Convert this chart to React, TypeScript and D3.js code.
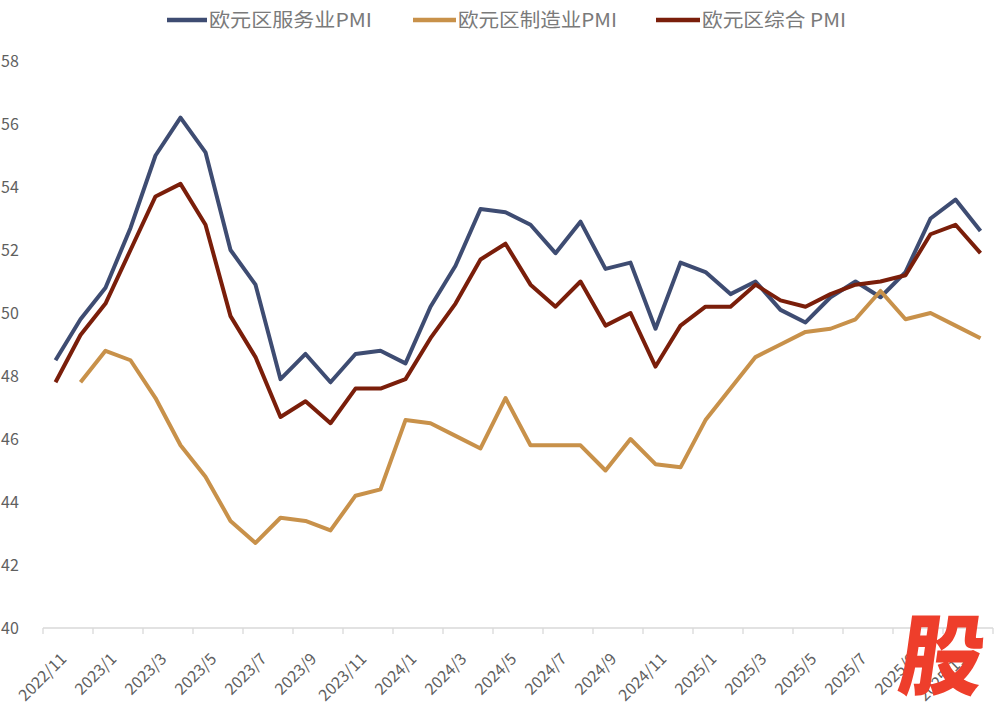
import * as d3 from 'd3';

const months = [
  '2022/11', '2022/12',
  '2023/1', '2023/2', '2023/3', '2023/4', '2023/5', '2023/6', '2023/7', '2023/8', '2023/9', '2023/10', '2023/11', '2023/12',
  '2024/1', '2024/2', '2024/3', '2024/4', '2024/5', '2024/6', '2024/7', '2024/8', '2024/9', '2024/10', '2024/11', '2024/12',
  '2025/1', '2025/2', '2025/3', '2025/4', '2025/5', '2025/6', '2025/7', '2025/8', '2025/9', '2025/10', '2025/11', '2025/12',
];

const services = [
  48.5, 49.8, 50.8, 52.7, 55.0, 56.2, 55.1, 52.0, 50.9, 47.9, 48.7, 47.8, 48.7, 48.8,
  48.4, 50.2, 51.5, 53.3, 53.2, 52.8, 51.9, 52.9, 51.4, 51.6, 49.5, 51.6,
  51.3, 50.6, 51.0, 50.1, 49.7, 50.5, 51.0, 50.5, 51.3, 53.0, 53.6, 52.6,
];

const manufacturing: (number | null)[] = [
  null, 47.8, 48.8, 48.5, 47.3, 45.8, 44.8, 43.4, 42.7, 43.5, 43.4, 43.1, 44.2, 44.4,
  46.6, 46.5, 46.1, 45.7, 47.3, 45.8, 45.8, 45.8, 45.0, 46.0, 45.2, 45.1,
  46.6, 47.6, 48.6, 49.0, 49.4, 49.5, 49.8, 50.7, 49.8, 50.0, 49.6, 49.2,
];

const composite = [
  47.8, 49.3, 50.3, 52.0, 53.7, 54.1, 52.8, 49.9, 48.6, 46.7, 47.2, 46.5, 47.6, 47.6,
  47.9, 49.2, 50.3, 51.7, 52.2, 50.9, 50.2, 51.0, 49.6, 50.0, 48.3, 49.6,
  50.2, 50.2, 50.9, 50.4, 50.2, 50.6, 50.9, 51.0, 51.2, 52.5, 52.8, 51.9,
];

const yTicks = [40, 42, 44, 46, 48, 50, 52, 54, 56, 58];

const series = [
  { name: '欧元区服务业PMI', color: '#3E4C72', values: services as (number | null)[] },
  { name: '欧元区制造业PMI', color: '#C8914A', values: manufacturing },
  { name: '欧元区综合 PMI', color: '#7A1E0A', values: composite as (number | null)[] },
];

const W = 1003;
const H = 709;
const font = '"Noto Sans CJK SC", "Noto Sans", sans-serif';

// legend layout: sample start, text start, text width
const legendPos = [
  { x: 167, tx: 209, tw: 163 },
  { x: 413, tx: 458, tw: 159 },
  { x: 656, tx: 702, tw: 144 },
];

export default function App() {
  const x = d3.scaleBand<string>().domain(months).range([43, 993]).padding(0);
  const y = d3.scaleLinear().domain([40, 58]).range([628, 61]);
  const cx = (m: string) => (x(m) ?? 0) + x.bandwidth() / 2;

  const line = d3
    .line<number | null>()
    .defined((d) => d != null)
    .x((_, i) => cx(months[i]))
    .y((d) => y(d as number));

  return (
    <svg
      width={W}
      height={H}
      style={{ position: 'absolute', left: 0, top: 0, background: '#fff' }}
      fontFamily={font}
    >
      {/* legend */}
      {series.map((s, i) => (
        <g key={s.name}>
          <line
            x1={legendPos[i].x}
            x2={legendPos[i].tx - 2}
            y1={20}
            y2={20}
            stroke={s.color}
            strokeWidth={4.5}
          />
          <text
            x={legendPos[i].tx}
            y={20}
            dy="0.36em"
            fontSize={19}
            fill="#7A7A7A"
            textLength={legendPos[i].tw}
            lengthAdjust="spacingAndGlyphs"
          >
            {s.name}
          </text>
        </g>
      ))}

      {/* y labels */}
      {yTicks.map((t) => (
        <text key={t} x={1} y={y(t)} dy="0.36em" fontSize={16} fill="#5F5F5F">
          {t}
        </text>
      ))}

      {/* x axis */}
      <line x1={43} x2={993} y1={628} y2={628} stroke="#D9D9D9" strokeWidth={1.3} />
      {months.map((m, i) =>
        i % 2 === 0 ? (
          <line key={m} x1={x(m)} x2={x(m)} y1={628} y2={634} stroke="#D9D9D9" strokeWidth={1.3} />
        ) : null
      )}
      <line x1={993} x2={993} y1={628} y2={634} stroke="#D9D9D9" strokeWidth={1.3} />
      {months.map((m, i) =>
        i % 2 === 0 ? (
          <text
            key={'l' + m}
            transform={`translate(${cx(m) + 8},${656}) rotate(-45)`}
            textAnchor="end"
            dy="0.35em"
            fontSize={16}
            fill="#5F5F5F"
          >
            {m}
          </text>
        ) : null
      )}

      {/* lines */}
      {series.map((s) => (
        <path
          key={'p' + s.name}
          d={line(s.values) ?? ''}
          fill="none"
          stroke={s.color}
          strokeWidth={4}
          strokeLinejoin="round"
        />
      ))}

      {/* watermark */}
      <text
        transform="translate(938,688) skewX(-8) scale(1,1.05)"
        textAnchor="middle"
        fontSize={84}
        fontWeight={900}
        fill="#EE3E2B"
      >
        股
      </text>
    </svg>
  );
}
